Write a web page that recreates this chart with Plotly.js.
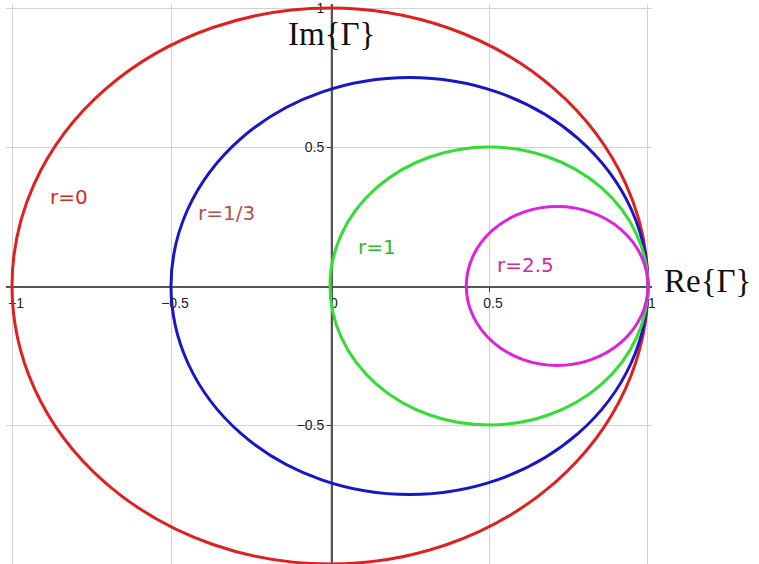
<!DOCTYPE html>
<html>
<head>
<meta charset="utf-8">
<script src="https://cdn.plot.ly/plotly-3.0.1.min.js"></script>
<style>
  html, body { margin: 0; padding: 0; background: #fff; }
  #chart { width: 759px; height: 564px; }
</style>
</head>
<body>
<div id="chart"></div>
<script>
// Constant-resistance circles of the Smith chart in the reflection-coefficient plane
const resistances = [0, 1 / 3, 1, 2.5];
const resistanceLabels = ['r=0', 'r=1/3', 'r=1', 'r=2.5'];
const tickValues = [-1, -0.5, 0, 0.5, 1];
const tickLabels = ['\u22121', '\u22120.5', '0', '0.5', '1'];
const yTickValues = [-1, -0.5, 0.5, 1];
const yTickLabels = ['', '\u22120.5', '0.5', '1'];

const circleColors = ['#e01f1f', '#1717c8', '#33dd33', '#dd22dd'];
const labelColors = ['#d42828', '#b5504f', '#25c025', '#cc2aa8'];
// where each circle's name is written (data coordinates)
const labelSpots = [[-0.82, 0.32], [-0.325, 0.262], [0.148, 0.14], [0.615, 0.076]];

// circle for resistance r: centre r/(1+r) on the real axis, radius 1/(1+r)
const shapes = resistances.map((r, i) => {
  const centre = r / (1 + r);
  const radius = 1 / (1 + r);
  return {
    type: 'circle', xref: 'x', yref: 'y', layer: 'above',
    x0: centre - radius, x1: centre + radius,
    y0: -radius, y1: radius,
    line: { color: circleColors[i], width: 3 }
  };
});

const annotations = resistanceLabels.map((t, i) => ({
  text: t, xref: 'x', yref: 'y', x: labelSpots[i][0], y: labelSpots[i][1],
  showarrow: false, xanchor: 'center', yanchor: 'middle',
  font: { family: 'DejaVu Sans', size: 20, color: labelColors[i] }
}));

annotations.push({
  text: 'Im{\u0393}', xref: 'paper', yref: 'paper', x: 0.5031, y: 0.946,
  showarrow: false, xanchor: 'center', yanchor: 'middle',
  font: { family: 'Liberation Serif', size: 33, color: '#111' }
});
annotations.push({
  text: 'Re{\u0393}', xref: 'paper', yref: 'paper', x: 1.015, y: 0.505,
  showarrow: false, xanchor: 'left', yanchor: 'middle',
  font: { family: 'Liberation Serif', size: 33, color: '#111' }
});

const axisCommon = {
  showgrid: true, gridcolor: '#d2d2d2', gridwidth: 1,
  zeroline: false, showline: true, linecolor: '#555', linewidth: 1.5,
  ticks: 'outside', ticklen: 4, tickcolor: '#333', tickwidth: 1,
  tickfont: { family: 'Liberation Sans', size: 14, color: '#222' },
  ticklabeloverflow: 'allow',
  anchor: 'free', fixedrange: true
};

const layout = {
  width: 759, height: 564,
  margin: { l: 6, r: 107, t: 4, b: 0 },
  paper_bgcolor: '#ffffff', plot_bgcolor: '#ffffff',
  showlegend: false,
  xaxis: Object.assign({}, axisCommon, {
    range: [-1.0189, 1.0126],
    tickmode: 'array', tickvals: tickValues, ticktext: tickLabels,
    ticklabelshift: 4,
    position: 0.4964
  }),
  yaxis: Object.assign({}, axisCommon, {
    range: [-1, 1.0144],
    tickmode: 'array', tickvals: yTickValues, ticktext: yTickLabels,
    position: 0.5031
  }),
  shapes: shapes,
  annotations: annotations
};

Plotly.newPlot('chart', [{ x: [], y: [], type: 'scatter', mode: 'lines', hoverinfo: 'skip' }], layout, { staticPlot: true });
</script>
</body>
</html>
